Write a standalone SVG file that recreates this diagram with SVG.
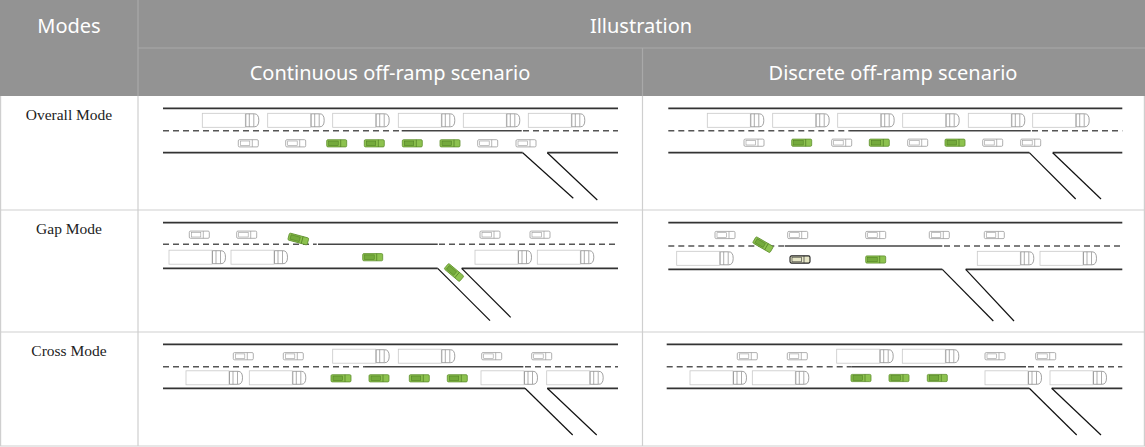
<svg xmlns="http://www.w3.org/2000/svg" xmlns:xlink="http://www.w3.org/1999/xlink" width="1145" height="447" viewBox="0 0 1145 447">
<style>
.hdr{font-family:"Noto Sans","Open Sans",sans-serif;font-size:20px;fill:#ffffff;text-anchor:middle}
.lbl{font-family:"Liberation Serif","Times New Roman",serif;font-size:15.5px;fill:#222;text-anchor:middle}
.grid{stroke:#cfcfcf;stroke-width:1.2;fill:none}
.hgrid{stroke:#a9a9a9;stroke-width:1.2;fill:none}
.road{stroke:#333;stroke-width:1.8;fill:none}
.ramp{stroke:#111;stroke-width:1.2;fill:none}
.dash{stroke:#555;stroke-width:1.4;stroke-dasharray:6 4;fill:none}
.solidc{stroke:#444;stroke-width:1.6;fill:none}
</style>
<defs>
<g id="truck">
<rect x="0" y="-7" width="43" height="14" fill="#fff" stroke="#c8c8c8" stroke-width="0.8"/>
<path d="M43.5,-6.5 h8.5 q4.5,0 4.5,6.5 q0,6.5 -4.5,6.5 h-8.5 z" fill="#fff" stroke="#8a8a8a" stroke-width="0.8"/>
<line x1="47" y1="-6.5" x2="47" y2="6.5" stroke="#8a8a8a" stroke-width="0.7"/>
<line x1="51.5" y1="-6.2" x2="51.5" y2="6.2" stroke="#8a8a8a" stroke-width="0.7"/>
</g>
<g id="carw">
<rect x="-10" y="-3.6" width="20" height="7.2" rx="1.2" fill="#fff" stroke="#9a9a9a" stroke-width="0.8"/>
<rect x="-8" y="-2.3" width="9.5" height="4.6" fill="none" stroke="#9a9a9a" stroke-width="0.6"/>
<line x1="4" y1="-3.6" x2="4" y2="3.6" stroke="#9a9a9a" stroke-width="0.7"/>
</g>
<g id="carg">
<rect x="-10" y="-3.6" width="20" height="7.2" rx="1.2" fill="#8dc24f" stroke="#5f8f2e" stroke-width="0.8"/>
<rect x="-8" y="-2.3" width="9.5" height="4.6" fill="#74aa3c" stroke="#4d7a22" stroke-width="0.5"/>
<line x1="4" y1="-3.6" x2="4" y2="3.6" stroke="#4d7a22" stroke-width="0.7"/>
</g>
<g id="card">
<rect x="-10" y="-3.6" width="20" height="7.2" rx="1.5" fill="#e6e6c6" stroke="#222" stroke-width="1.1"/>
<rect x="-8" y="-2.3" width="9.5" height="4.6" fill="none" stroke="#333" stroke-width="0.6"/>
<line x1="4" y1="-3.6" x2="4" y2="3.6" stroke="#333" stroke-width="0.7"/>
</g>
</defs>
<rect x="0" y="0" width="1145" height="447" fill="#fff"/>
<g id="header">
<rect x="0" y="0" width="1145" height="96" fill="#939393"/>
<line class="hgrid" x1="138" y1="48" x2="1145" y2="48"/>
<line class="hgrid" x1="138" y1="0" x2="138" y2="96"/>
<line class="hgrid" x1="642.5" y1="48" x2="642.5" y2="96"/>
<text class="hdr" x="69" y="33">Modes</text>
<text class="hdr" x="641" y="33">Illustration</text>
<text class="hdr" x="390" y="80">Continuous off-ramp scenario</text>
<text class="hdr" x="893" y="80">Discrete off-ramp scenario</text>
</g>
<g id="grid">
<line class="grid" x1="0" y1="210" x2="1145" y2="210"/>
<line class="grid" x1="0" y1="332" x2="1145" y2="332"/>
<line class="grid" x1="0" y1="446" x2="1145" y2="446"/>
<line class="grid" x1="138" y1="96" x2="138" y2="446"/>
<line class="grid" x1="642.5" y1="96" x2="642.5" y2="446"/>
<line class="grid" x1="0.6" y1="96" x2="0.6" y2="446"/>
<line class="grid" x1="1144.4" y1="96" x2="1144.4" y2="446"/>
</g>
<g id="labels">
<text class="lbl" x="69" y="120">Overall Mode</text>
<text class="lbl" x="69" y="234">Gap Mode</text>
<text class="lbl" x="69" y="356">Cross Mode</text>
</g>
<g id="overall-continuous">
<line class="road" x1="163" y1="108.3" x2="618" y2="108.3"/>
<line class="dash" x1="163" y1="130.7" x2="401.7" y2="130.7"/>
<line class="solidc" x1="401.7" y1="130.7" x2="521.7" y2="130.7"/>
<line class="dash" x1="523" y1="130.7" x2="618" y2="130.7"/>
<line class="road" x1="163" y1="152.7" x2="522.7" y2="152.7"/>
<line class="road" x1="547.3" y1="152.7" x2="618" y2="152.7"/>
<line class="ramp" x1="522.7" y1="152.7" x2="573.3" y2="198.3"/>
<line class="ramp" x1="547.3" y1="152.7" x2="597.3" y2="200"/>
<use xlink:href="#truck" x="202.3" y="120.3"/>
<use xlink:href="#truck" x="267.7" y="120.3"/>
<use xlink:href="#truck" x="332.7" y="120.3"/>
<use xlink:href="#truck" x="398.3" y="120.3"/>
<use xlink:href="#truck" x="463.3" y="120.3"/>
<use xlink:href="#truck" x="528.3" y="120.3"/>
<use xlink:href="#carw" x="248.3" y="143.3"/>
<use xlink:href="#carw" x="295.7" y="143.3"/>
<use xlink:href="#carg" x="336.7" y="143.3"/>
<use xlink:href="#carg" x="374.3" y="143.3"/>
<use xlink:href="#carg" x="412.3" y="143.3"/>
<use xlink:href="#carg" x="450" y="143.3"/>
<use xlink:href="#carw" x="487.7" y="143.3"/>
<use xlink:href="#carw" x="526" y="143.3"/>
</g>
<g id="overall-discrete">
<line class="road" x1="668.3" y1="108.3" x2="1122.3" y2="108.3"/>
<line class="dash" x1="668.3" y1="130.7" x2="850" y2="130.7"/>
<line class="solidc" x1="850" y1="130.7" x2="1030.7" y2="130.7"/>
<line class="dash" x1="1032" y1="130.7" x2="1122.3" y2="130.7"/>
<line class="road" x1="668.3" y1="152.7" x2="1029.3" y2="152.7"/>
<line class="road" x1="1052.7" y1="152.7" x2="1122.3" y2="152.7"/>
<line class="ramp" x1="1029.3" y1="152.7" x2="1075.7" y2="199"/>
<line class="ramp" x1="1052.7" y1="152.7" x2="1101" y2="199"/>
<use xlink:href="#truck" x="707.3" y="120.3"/>
<use xlink:href="#truck" x="772.7" y="120.3"/>
<use xlink:href="#truck" x="837.7" y="120.3"/>
<use xlink:href="#truck" x="902.7" y="120.3"/>
<use xlink:href="#truck" x="968.3" y="120.3"/>
<use xlink:href="#truck" x="1032.7" y="120.3"/>
<use xlink:href="#carw" x="754" y="142.7"/>
<use xlink:href="#carg" x="801.7" y="142.7"/>
<use xlink:href="#carw" x="841.7" y="142.7"/>
<use xlink:href="#carg" x="879.3" y="142.7"/>
<use xlink:href="#carw" x="917.7" y="142.7"/>
<use xlink:href="#carg" x="955" y="142.7"/>
<use xlink:href="#carw" x="992.7" y="142.7"/>
<use xlink:href="#carw" x="1030.7" y="142.7"/>
</g>
<g id="gap-continuous">
<line class="road" x1="163" y1="222.7" x2="618" y2="222.7"/>
<line class="dash" x1="163" y1="244.3" x2="316.7" y2="244.3"/>
<line class="solidc" x1="318" y1="244.3" x2="437.7" y2="244.3"/>
<line class="dash" x1="439" y1="244.3" x2="618" y2="244.3"/>
<line class="road" x1="163" y1="268.3" x2="437.7" y2="268.3"/>
<line class="road" x1="461.7" y1="268.3" x2="618" y2="268.3"/>
<line class="ramp" x1="437.7" y1="268.3" x2="490" y2="320.7"/>
<line class="ramp" x1="461.7" y1="268.3" x2="510.7" y2="317.3"/>
<use xlink:href="#carw" x="199.3" y="234.7"/>
<use xlink:href="#carw" x="246.7" y="234.7"/>
<use xlink:href="#carw" x="490" y="234.7"/>
<use xlink:href="#carw" x="540" y="234.7"/>
<use xlink:href="#carg" transform="translate(298.3,239) rotate(15)"/>
<use xlink:href="#truck" x="169" y="257.2"/>
<use xlink:href="#truck" x="231" y="257.2"/>
<use xlink:href="#truck" x="475" y="257.2"/>
<use xlink:href="#truck" x="537.3" y="257.2"/>
<use xlink:href="#carg" x="372.7" y="257.2"/>
<use xlink:href="#carg" transform="translate(454,272.5) rotate(40)"/>
</g>
<g id="gap-discrete">
<line class="road" x1="668.3" y1="222.7" x2="1122.3" y2="222.7"/>
<line class="dash" x1="668.3" y1="246" x2="785" y2="246"/>
<line class="solidc" x1="785" y1="246" x2="942.3" y2="246"/>
<line class="dash" x1="944" y1="246" x2="1122.3" y2="246"/>
<line class="road" x1="668.3" y1="269.3" x2="942.3" y2="269.3"/>
<line class="road" x1="965.7" y1="269.3" x2="1122.3" y2="269.3"/>
<line class="ramp" x1="942.3" y1="269.3" x2="993.3" y2="321"/>
<line class="ramp" x1="965.7" y1="269.3" x2="1014" y2="321"/>
<use xlink:href="#carw" x="725" y="235"/>
<use xlink:href="#carw" x="797.7" y="235"/>
<use xlink:href="#carw" x="875.7" y="235"/>
<use xlink:href="#carw" x="939.3" y="235"/>
<use xlink:href="#carw" x="994.3" y="235"/>
<use xlink:href="#carg" transform="translate(763,244.7) rotate(30)"/>
<use xlink:href="#truck" x="676.7" y="258.3"/>
<use xlink:href="#truck" x="977.3" y="258.3"/>
<use xlink:href="#truck" x="1040" y="258.3"/>
<use xlink:href="#card" x="800" y="259.5"/>
<use xlink:href="#carg" x="875.7" y="259.5"/>
</g>
<g id="cross-continuous">
<line class="road" x1="163" y1="344.3" x2="618" y2="344.3"/>
<line class="dash" x1="163" y1="366.7" x2="365" y2="366.7"/>
<line class="solidc" x1="365" y1="366.7" x2="523.3" y2="366.7"/>
<line class="dash" x1="525" y1="366.7" x2="618" y2="366.7"/>
<line class="road" x1="163" y1="388.3" x2="525" y2="388.3"/>
<line class="road" x1="547.3" y1="388.3" x2="618" y2="388.3"/>
<line class="ramp" x1="525" y1="388.3" x2="572.7" y2="435"/>
<line class="ramp" x1="547.3" y1="388.3" x2="596.7" y2="435"/>
<use xlink:href="#carw" x="243.3" y="356.2"/>
<use xlink:href="#carw" x="293.3" y="356.2"/>
<use xlink:href="#truck" x="332.7" y="356.2"/>
<use xlink:href="#truck" x="398.3" y="356.2"/>
<use xlink:href="#carw" x="491.7" y="356.2"/>
<use xlink:href="#carw" x="541.7" y="356.2"/>
<use xlink:href="#truck" x="186" y="377.8"/>
<use xlink:href="#truck" x="249.3" y="377.8"/>
<use xlink:href="#carg" x="341" y="378.3"/>
<use xlink:href="#carg" x="379" y="378.3"/>
<use xlink:href="#carg" x="419.3" y="378.3"/>
<use xlink:href="#carg" x="457.3" y="378.3"/>
<use xlink:href="#truck" x="481" y="377.8"/>
<use xlink:href="#truck" x="546.7" y="377.8"/>
</g>
<g id="cross-discrete">
<line class="road" x1="666.7" y1="344.3" x2="1122.3" y2="344.3"/>
<line class="dash" x1="666.7" y1="366.7" x2="851.7" y2="366.7"/>
<line class="solidc" x1="851.7" y1="366.7" x2="1026" y2="366.7"/>
<line class="dash" x1="1028" y1="366.7" x2="1122.3" y2="366.7"/>
<line class="road" x1="666.7" y1="388.3" x2="1029.3" y2="388.3"/>
<line class="road" x1="1051.7" y1="388.3" x2="1122.3" y2="388.3"/>
<line class="ramp" x1="1029.3" y1="388.3" x2="1076.7" y2="435"/>
<line class="ramp" x1="1051.7" y1="388.3" x2="1101" y2="435"/>
<use xlink:href="#carw" x="747.3" y="356.2"/>
<use xlink:href="#carw" x="797.3" y="356.2"/>
<use xlink:href="#truck" x="836.7" y="356.2"/>
<use xlink:href="#truck" x="902.3" y="356.2"/>
<use xlink:href="#carw" x="995" y="356.2"/>
<use xlink:href="#carw" x="1045.7" y="356.2"/>
<use xlink:href="#truck" x="690" y="377.8"/>
<use xlink:href="#truck" x="752.3" y="377.8"/>
<use xlink:href="#carg" x="861" y="378"/>
<use xlink:href="#carg" x="899" y="378"/>
<use xlink:href="#carg" x="937.3" y="378"/>
<use xlink:href="#truck" x="985" y="377.8"/>
<use xlink:href="#truck" x="1050" y="377.8"/>
</g>
</svg>
